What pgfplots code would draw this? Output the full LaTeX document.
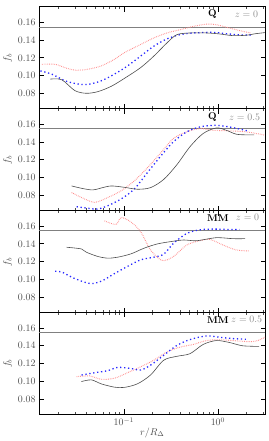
\documentclass[border=0pt]{standalone}
\usepackage{pgfplots}
\pgfplotsset{compat=1.18}
\usepgfplotslibrary{groupplots}
\definecolor{tk}{gray}{0.3}
\definecolor{pinkred}{RGB}{255,140,140}
\definecolor{bl}{RGB}{40,40,255}
\begin{document}
\begin{tikzpicture}[x=1pt,y=1pt]
\pgfplotsset{
  every axis/.append style={
    scale only axis, width=229pt, height=103pt,
    xmode=log, xmin=0.0125, xmax=3.2,
    ymin=0.0625, ymax=0.1775,
    ytick={0.08,0.10,0.12,0.14,0.16},
    yticklabel style={/pgf/number format/.cd,fixed,fixed zerofill,precision=2},
    tick label style={text=tk},
    tick align=inside, xtick pos=both, ytick pos=both,
    major tick length=5pt, minor tick length=2.5pt,
    every major tick/.style={line width=0.8pt, black},
    every minor tick/.style={line width=0.4pt, black!70},
    axis line style={line width=0.9pt},
    ylabel={$f_b$}, ylabel style={text=tk, yshift=-1pt},
    clip=true,
  },
  blk/.style={black!70, line width=0.6pt, smooth},
  blu/.style={bl, line width=1.3pt, dash pattern=on 1.3pt off 2.7pt, smooth},
  rd/.style={pinkred, line width=1pt, dash pattern=on 0.7pt off 1.1pt, smooth},
  href/.style={black!50, line width=0.6pt},
}
\begin{groupplot}[group style={group size=1 by 4, vertical sep=0pt, xticklabels at=edge bottom},]
% ---------------- Panel 1: Q z=0
\nextgroupplot
\addplot[href] coordinates {(0.0125,0.155) (3.2,0.155)};
\addplot[rd] coordinates {(0.01346,0.1127) (0.01858,0.1127) (0.02465,0.1083) (0.03141,0.1060) (0.0416,0.1072) (0.0574,0.1109) (0.0792,0.1183) (0.1008,0.1258) (0.1507,0.1351) (0.208,0.1425) (0.287,0.1481) (0.396,0.1518) (0.547,0.1555) (0.755,0.1581) (0.961,0.1574) (1.325,0.1537) (1.828,0.1500) (2.238,0.1481)};
\addplot[blu] coordinates {(0.01294,0.1053) (0.01715,0.1016) (0.02366,0.0941) (0.03266,0.0904) (0.0416,0.0900) (0.0574,0.0941) (0.0792,0.1016) (0.1093,0.1109) (0.1507,0.1220) (0.208,0.1332) (0.287,0.1414) (0.396,0.1462) (0.547,0.1481) (0.887,0.1488) (1.223,0.1473) (1.687,0.1459) (2.238,0.1459)};
\addplot[blk] coordinates {(0.01648,0.0960) (0.02183,0.0953) (0.03013,0.0830) (0.0399,0.0800) (0.0529,0.0819) (0.0731,0.0878) (0.1008,0.0967) (0.1507,0.1090) (0.208,0.1220) (0.287,0.1369) (0.366,0.1462) (0.505,0.1481) (0.755,0.1481) (1.041,0.1470) (1.436,0.1451) (1.982,0.1455) (2.523,0.1473) (3.16,0.1485)};
\node[font=\bfseries] at (axis description cs:0.766,0.93) {Q};
\node[text=black!45] at (axis description cs:0.916,0.93) {$z=0$};
% ---------------- Panel 2: Q z=0.5
\nextgroupplot
\addplot[href] coordinates {(0.0125,0.155) (3.2,0.155)};
\addplot[rd] coordinates {(0.0278,0.0830) (0.0354,0.0774) (0.0489,0.0719) (0.0674,0.0774) (0.0931,0.0848) (0.1283,0.0959) (0.177,0.1107) (0.2444,0.1274) (0.337,0.1441) (0.466,0.1515) (0.642,0.1552) (0.887,0.1533) (1.325,0.1526) (1.982,0.1515) (3.16,0.1478)};
\addplot[blu] coordinates {(0.0314,0.0670) (0.0416,0.0652) (0.0529,0.0644) (0.0674,0.0681) (0.0931,0.0756) (0.1283,0.0867) (0.177,0.1052) (0.2444,0.1237) (0.337,0.1404) (0.466,0.1515) (0.642,0.1570) (0.961,0.1589) (1.436,0.1563) (2.065,0.1526)};
\addplot[blk] coordinates {(0.0278,0.0904) (0.0368,0.0874) (0.0469,0.0859) (0.0574,0.0881) (0.0731,0.0904) (0.1008,0.0889) (0.139,0.0867) (0.192,0.0885) (0.265,0.0978) (0.366,0.1144) (0.505,0.1348) (0.696,0.1496) (0.961,0.1559) (1.223,0.1533) (1.556,0.1489) (1.982,0.1481) (2.425,0.1481)};
\node[font=\bfseries] at (axis description cs:0.766,0.915) {Q};
\node[text=black!45] at (axis description cs:0.908,0.915) {$z=0.5$};
% ---------------- Panel 3: MM z=0
\nextgroupplot
\addplot[href] coordinates {(0.0125,0.155) (3.2,0.155)};
\addplot[rd] coordinates {(0.0622,0.1660) (0.0824,0.1619) (0.0931,0.1697) (0.1184,0.1648) (0.1507,0.1537) (0.192,0.1332) (0.2545,0.1213) (0.337,0.1258) (0.466,0.1388) (0.642,0.1436) (0.818,0.1451) (1.128,0.1388) (1.556,0.1332) (2.113,0.1321)};
\addplot[blu] coordinates {(0.01858,0.1090) (0.0218,0.1083) (0.02897,0.1016) (0.0433,0.0953) (0.0574,0.0979) (0.0792,0.1064) (0.1093,0.1146) (0.1507,0.1220) (0.208,0.1250) (0.265,0.1284) (0.337,0.1407) (0.466,0.1518) (0.642,0.1559) (0.887,0.1567) (1.325,0.1563) (1.687,0.1563)};
\addplot[blk] coordinates {(0.02465,0.1362) (0.0354,0.1343) (0.0399,0.1306) (0.0529,0.1258) (0.0674,0.1239) (0.0859,0.1250) (0.1184,0.1287) (0.1634,0.1351) (0.2255,0.1399) (0.311,0.1425) (0.4295,0.1444) (0.593,0.1436) (0.961,0.1470) (1.436,0.1459) (1.95,0.1459)};
\node[font=\bfseries] at (axis description cs:0.79,0.93) {MM};
\node[text=black!45] at (axis description cs:0.921,0.93) {$z=0$};
% ---------------- Panel 4: MM z=0.5
\nextgroupplot[xlabel={$r/R_\Delta$}, xlabel style={text=tk, yshift=5pt}]
\addplot[href] coordinates {(0.0125,0.155) (3.2,0.155)};
\addplot[rd] coordinates {(0.0314,0.1052) (0.0433,0.1059) (0.0574,0.1022) (0.0792,0.1033) (0.1093,0.1096) (0.1507,0.1163) (0.208,0.1237) (0.287,0.1330) (0.396,0.1385) (0.547,0.1415) (0.755,0.1459) (1.041,0.1467) (1.436,0.1459) (1.982,0.1448) (2.523,0.1452) (3.16,0.1496)};
\addplot[blu] coordinates {(0.0354,0.1070) (0.0489,0.1096) (0.0674,0.1119) (0.0859,0.1156) (0.1184,0.1144) (0.1507,0.1126) (0.192,0.1181) (0.265,0.1293) (0.366,0.1404) (0.505,0.1470) (0.755,0.1511) (1.041,0.1496) (1.436,0.1481) (1.982,0.1474)};
\addplot[blk] coordinates {(0.0354,0.0996) (0.0451,0.1015) (0.0574,0.0970) (0.0792,0.0933) (0.1008,0.0930) (0.139,0.0970) (0.192,0.1070) (0.265,0.1237) (0.366,0.1281) (0.505,0.1311) (0.696,0.1415) (0.961,0.1459) (1.325,0.1437) (1.828,0.1400) (2.735,0.1393)};
\node[font=\bfseries] at (axis description cs:0.79,0.93) {MM};
\node[text=black!45] at (axis description cs:0.917,0.93) {$z=0.5$};
\end{groupplot}
\path (group c1r1.north east) ++(3pt,7pt);
\end{tikzpicture}
\end{document}
